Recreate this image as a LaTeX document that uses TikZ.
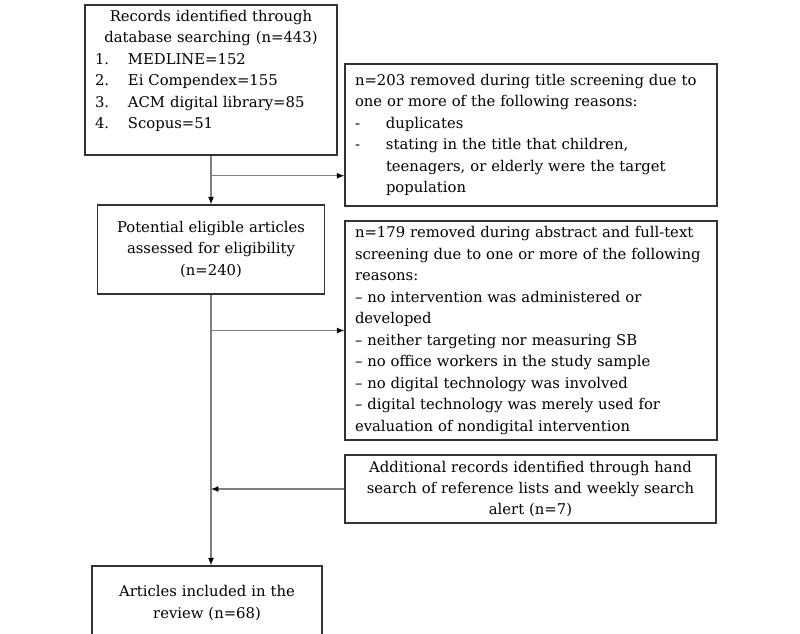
\documentclass[tikz,border=0pt]{standalone}
\usepackage{fontspec}
\setmainfont{DejaVu Serif}
\usetikzlibrary{arrows.meta}

\tikzset{every picture/.style={line width=0.75pt}}
\tikzset{
  box/.style={draw=black!80, line width=1.1pt, inner xsep=7.5pt, inner ysep=0pt,
    font=\fontsize{11.1}{16.1}\selectfont},
  conn/.style={draw=black!50, line width=0.9pt, -{Latex[length=5.5pt,width=4.5pt,black]}},
}

\begin{document}
\begin{tikzpicture}[x=0.75pt,y=0.75pt,yscale=-1,xscale=1]
\useasboundingbox (0,0) rectangle (800,633);

% Text Node
\node [box, minimum width=189pt, minimum height=112.5pt, text width=174pt, align=center] (srch) at (211,80)
  {Records identified through\\ database searching (n=443)\\
   \makebox[174pt][l]{\makebox[24.75pt][l]{1.}MEDLINE=152}\\
   \makebox[174pt][l]{\makebox[24.75pt][l]{2.}Ei Compendex=155}\\
   \makebox[174pt][l]{\makebox[24.75pt][l]{3.}ACM digital library=85}\\
   \makebox[174pt][l]{\makebox[24.75pt][l]{4.}Scopus=51}\\ \mbox{}};
% Text Node
\node [box, minimum width=279pt, minimum height=106.5pt, text width=264pt, align=left] (ttl) at (531,135)
  {n=203 removed during title screening due to\\ one or more of the following reasons:\\
   \makebox[23.25pt][l]{-}duplicates\\
   \makebox[23.25pt][l]{-}stating in the title that children,\\
   \hspace*{23.25pt}teenagers, or elderly were the target\\
   \hspace*{23.25pt}population};
% Text Node
\node [box, minimum width=170pt, minimum height=66.75pt, text width=155pt, align=center] (elig) at (211,249.5)
  {Potential eligible articles\\ assessed for eligibility\\ (n=240)};
% Text Node
\node [box, minimum width=279pt, minimum height=164.25pt, text width=264pt, align=left] (abst) at (531,330.5)
  {n=179 removed during abstract and full-text\\
   screening due to one or more of the following\\
   reasons:\\
   -- no intervention was administered or\\
   developed\\
   -- neither targeting nor measuring SB\\
   -- no office workers in the study sample\\
   -- no digital technology was involved\\
   -- digital technology was merely used for\\
   evaluation of nondigital intervention};
% Text Node
\node [box, minimum width=278.25pt, minimum height=51pt, text width=263pt, align=center] (hand) at (530.5,489)
  {Additional records identified through hand\\ search of reference lists and weekly search\\ alert (n=7)};
% Text Node
\node [box, minimum width=172.5pt, minimum height=55.5pt, text width=157pt, align=center] (incl) at (207,603)
  {Articles included in the\\ review (n=68)\\[5pt]};

%Straight Lines
\draw [conn] (srch.south) -- (srch.south |- elig.north);
%Straight Lines
\draw [conn] (srch.south) ++(0,20) coordinate (b1) -- (b1 -| ttl.west);
%Straight Lines
\draw [conn] (elig.south) -- (elig.south |- incl.north);
%Straight Lines
\draw [conn] (elig.south |- abst.west) -- (abst.west);
%Straight Lines
\draw [conn] (hand.west) -- (elig.south |- hand.west);

\end{tikzpicture}
\end{document}
